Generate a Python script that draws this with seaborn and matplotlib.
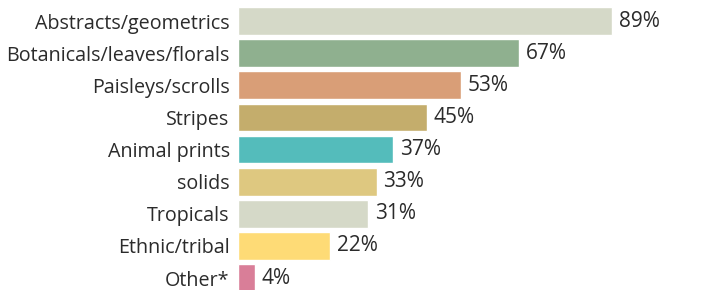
import matplotlib
matplotlib.use("Agg")
import matplotlib.pyplot as plt
import seaborn as sns
import pandas as pd

# chart data
categories = ["Abstracts/geometrics", "Botanicals/leaves/florals", "Paisleys/scrolls",
              "Stripes", "Animal prints", "solids", "Tropicals", "Ethnic/tribal", "Other*"]
shares = [89, 67, 53, 45, 37, 33, 31, 22, 4]
bar_colors = ["#d5d9c8", "#8fb08f", "#d99e77", "#c4ad6c", "#54bcbb",
              "#dec880", "#d5d9c8", "#fedb76", "#d97e98"]

df = pd.DataFrame({"category": categories, "share": shares})

sns.set_style("white")
plt.rcParams["font.family"] = ["Open Sans", "DejaVu Sans"]
text_color = "#2b2b2b"

fig = plt.figure(figsize=(7.01, 2.90), dpi=100)
ax = fig.add_axes([238 / 701, 0, 1 - 238 / 701, 1])

sns.barplot(data=df, x="share", y="category", hue="category", palette=bar_colors,
            legend=False, width=0.86, ax=ax, saturation=1)

ax.set_xlim(0, 110.2)
ax.set_ylim(8.37, -0.654)
ax.set_xlabel("")
ax.set_ylabel("")
ax.set_xticks([])
sns.despine(ax=ax, left=True, bottom=True)
ax.tick_params(axis="y", length=0, pad=6, labelsize=14.2, labelcolor=text_color)

for i, v in enumerate(shares):
    ax.text(v + 1.6, i, f"{v}%", va="center", ha="left", fontsize=15, color=text_color)

fig.savefig("out.png", dpi=100)
